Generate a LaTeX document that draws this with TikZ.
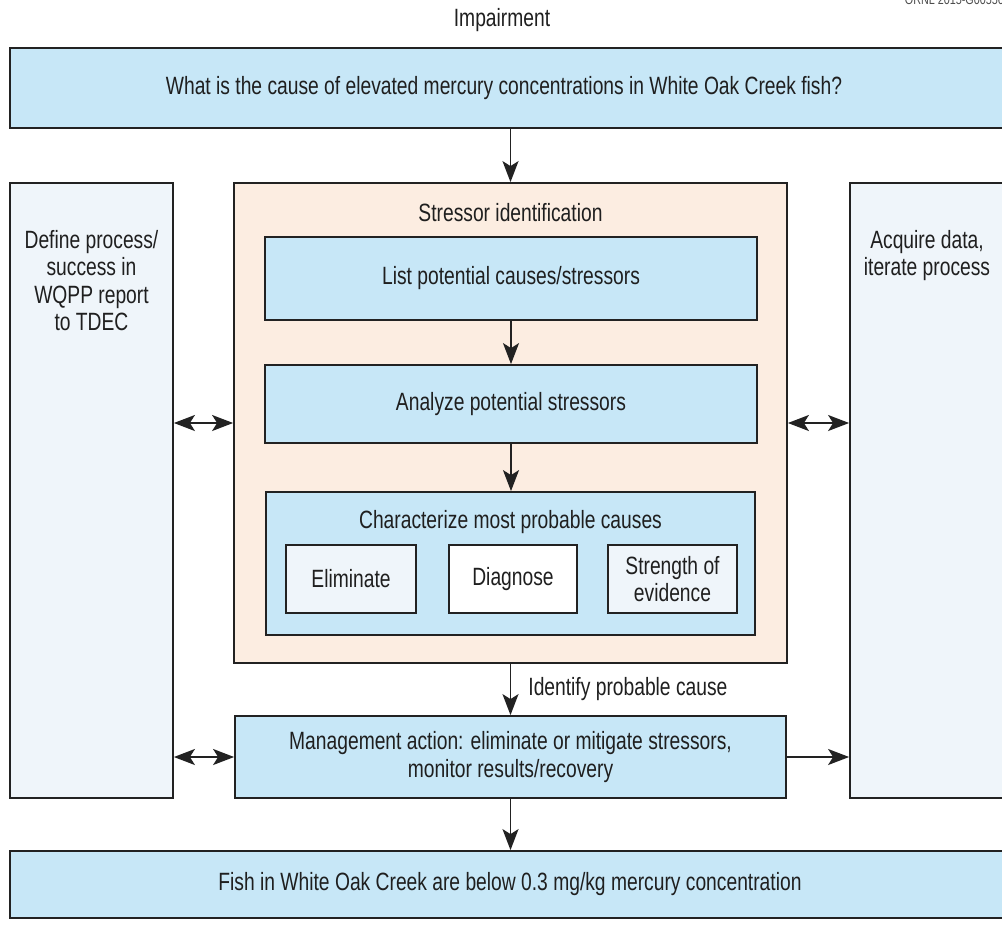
\documentclass[tikz,border=0pt]{standalone}
\usepackage{fontspec}
\setmainfont{Liberation Sans}[FakeStretch=0.77]
\usetikzlibrary{arrows.meta}
\definecolor{boxblue}{HTML}{C7E7F7}
\definecolor{paleblue}{HTML}{EFF5FA}
\definecolor{peach}{HTML}{FCEDE1}
\definecolor{edge}{HTML}{222222}
\begin{document}
\begin{tikzpicture}[x=1pt,y=-1pt,
  box/.style={draw=edge, line width=1.8pt, rectangle, inner sep=0pt, align=center,
              font=\fontsize{25}{27.5}\selectfont, text=black!88},
  txt/.style={inner sep=0pt, align=center, font=\fontsize{25}{27.5}\selectfont, text=black!88},
  tip/.tip={Stealth[length=21pt,width=16pt,inset=5pt]},
  arr/.style={draw=edge, line width=1.8pt, -tip},
  darr/.style={draw=edge, line width=1.8pt, tip-tip}]
\useasboundingbox (0,0) rectangle (1002,930);
\clip (0,0) rectangle (1002,930);
\fill[white] (0,0) rectangle (1002,930);

\node[font=\fontsize{14}{14}\selectfont, text=black!70, anchor=base east, inner sep=0pt] (fig) at (1004,4) {ORNL 2015-G00556};
\node[txt] (imp) at (502,20) {Impairment};

\node[box, fill=boxblue, minimum width=1000pt, minimum height=80pt] (q) at (510,88) {};
\node[txt] (qt) at (504,88) {What is the cause of elevated mercury concentrations in White Oak Creek fish?};

\node[box, fill=paleblue, minimum width=163pt, minimum height=615pt] (lb) at (91.5,490.5) {};
\node[txt, anchor=north] (lbt) at (91.5,230) {Define process/\\success in\\WQPP report\\to TDEC};

\node[box, fill=paleblue, minimum width=160pt, minimum height=615pt] (rb) at (930,490.5) {};
\node[txt, anchor=north] (rbt) at (927,230) {Acquire data,\\iterate process};

\node[box, fill=peach, minimum width=553pt, minimum height=480pt] (s) at (510.5,423) {};
\node[txt] (st) at (510.5,213) {Stressor identification};

\node[box, fill=boxblue, minimum width=492pt, minimum height=83pt] (l) at (511,278.5) {List potential causes/stressors};
\node[box, fill=boxblue, minimum width=492pt, minimum height=78pt] (a) at (511,404) {Analyze potential stressors};

\node[box, fill=boxblue, minimum width=489pt, minimum height=143pt] (c) at (510.5,563.5) {};
\node[txt] (ct) at (510.5,522) {Characterize most probable causes};
\node[box, fill=paleblue, minimum width=130pt, minimum height=68pt] (e) at (351,579) {Eliminate};
\node[box, fill=white, minimum width=128pt, minimum height=68pt] (d) at (513,579) {Diagnose};
\node[box, fill=paleblue, minimum width=129pt, minimum height=68pt] (se) at (672.5,579) {Strength of\\evidence};

\node[box, fill=boxblue, minimum width=551pt, minimum height=82pt] (m) at (510.5,757) {Management action: eliminate or mitigate stressors,\\monitor results/recovery};

\node[box, fill=boxblue, minimum width=1000pt, minimum height=67pt] (f) at (510,884.5) {};
\node[txt] (ft) at (510,884.5) {Fish in White Oak Creek are below 0.3 mg/kg mercury concentration};

\draw[arr] (s.north |- q.south) -- (s.north);
\draw[arr] (l) -- (a);
\draw[arr] (a.south) -- (a.south |- c.north);
\draw[arr] (s.south) -- node[txt, anchor=west, xshift=17pt] (ipc) {Identify probable cause} (m.north);
\draw[arr] (m.south) -- (m.south |- f.north);
\draw[darr] (lb.east |- s.west) -- (s.west);
\draw[darr] (s.east) -- (rb.west |- s.east);
\draw[darr] (lb.east |- m.west) -- (m.west);
\draw[arr] (m.east) -- (rb.west |- m.east);
\end{tikzpicture}
\end{document}
